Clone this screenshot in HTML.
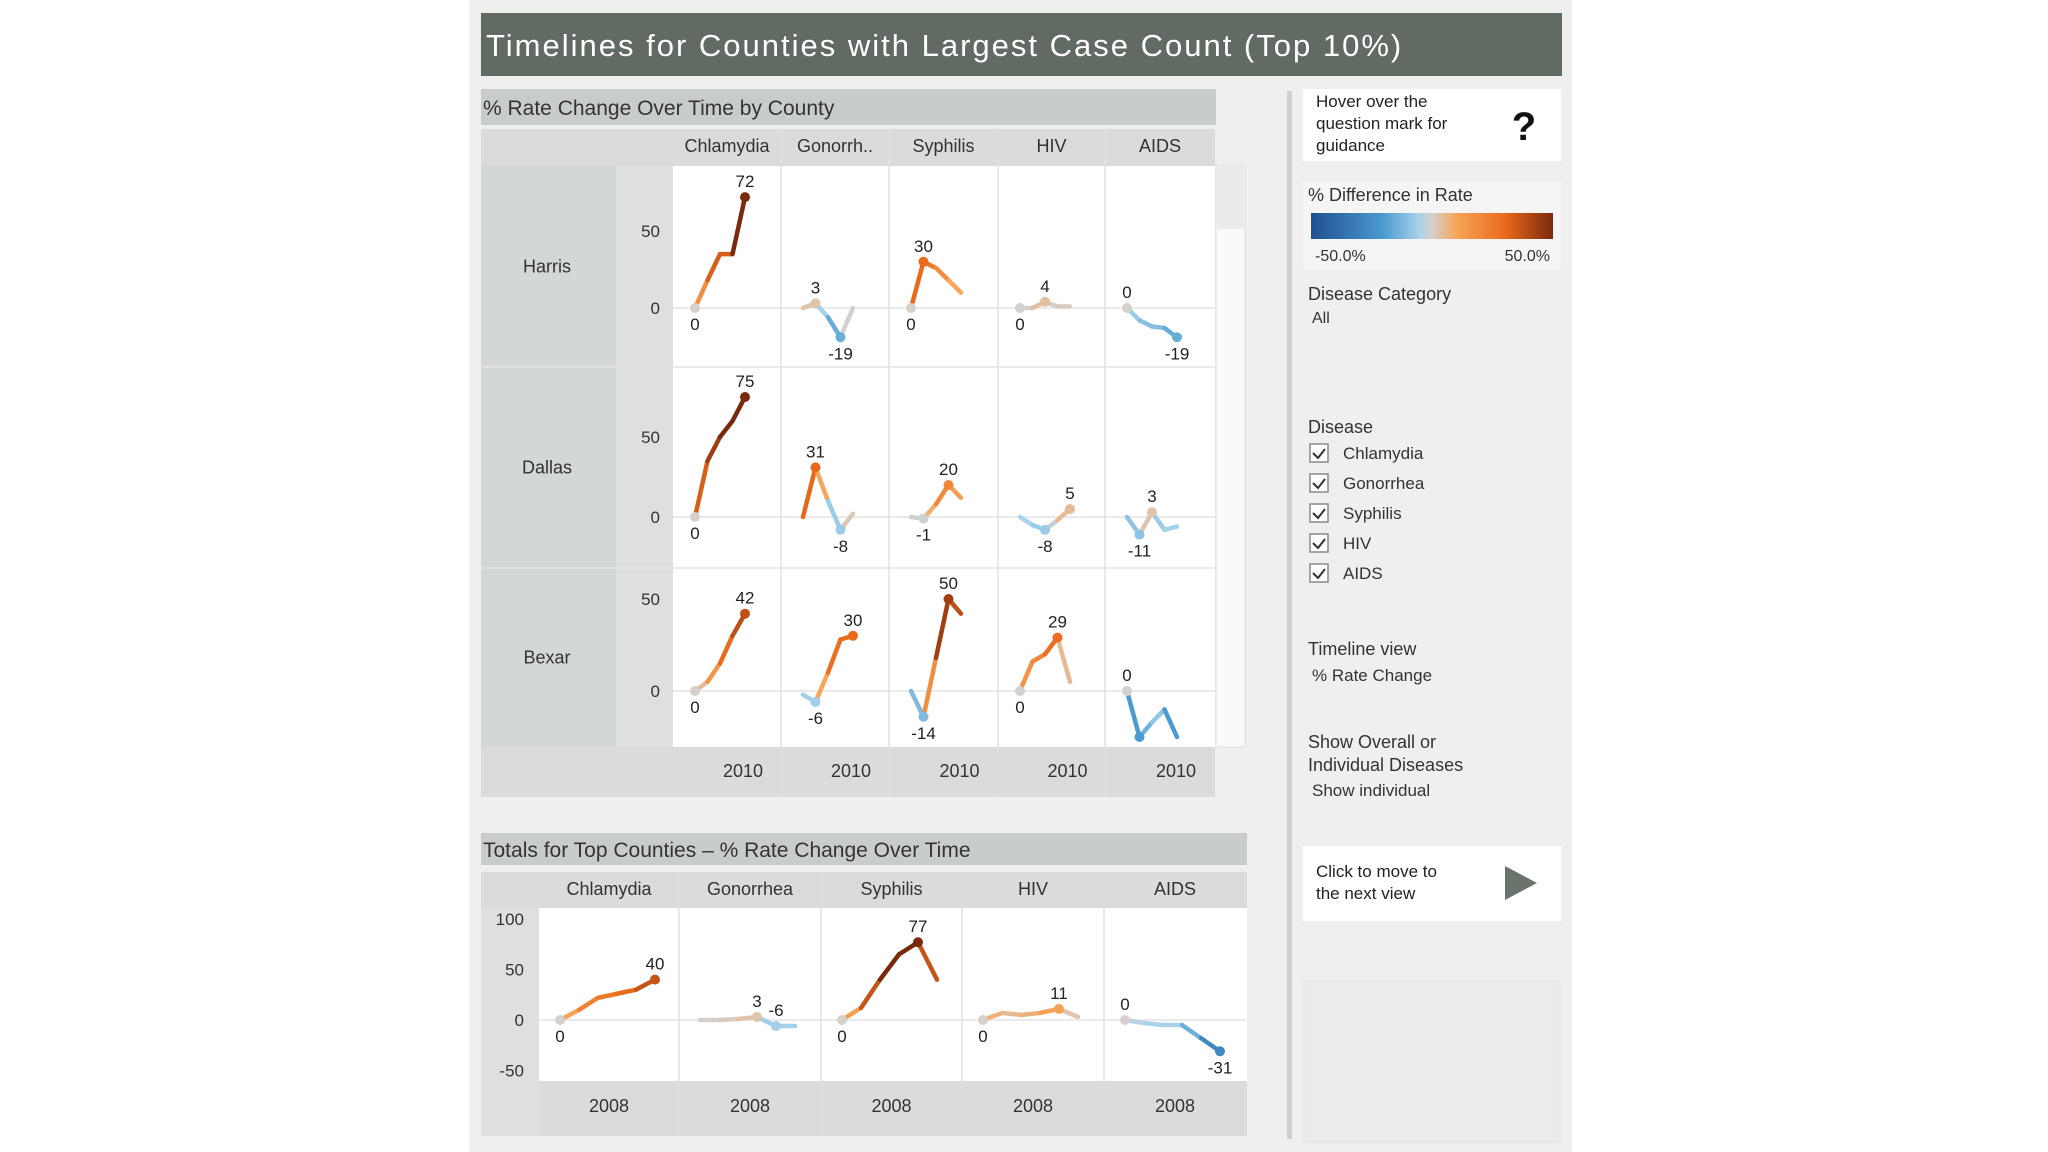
<!DOCTYPE html>
<html><head><meta charset="utf-8"><style>
html,body{margin:0;padding:0;background:#fff;}
svg{display:block;font-family:"Liberation Sans",sans-serif;}
</style></head><body>
<svg id="s" width="2048" height="1152" viewBox="0 0 2048 1152">
<rect x="469" y="0" width="1103" height="1152" fill="#efefef"/>
<rect x="481" y="13" width="1081" height="63" fill="#626a64"/>
<text x="486" y="56" font-size="31" fill="#fff" letter-spacing="2">Timelines for Counties with Largest Case Count (Top 10%)</text>
<rect x="481" y="89" width="735" height="36" fill="#c8cdcb"/>
<text x="483" y="115" font-size="21" fill="#333">% Rate Change Over Time by County</text>
<rect x="481" y="129" width="734" height="37" fill="#d9dcdb"/>
<rect x="481" y="166" width="135" height="581" fill="#d3d8d6"/>
<rect x="616" y="166" width="57" height="581" fill="#dde0df"/>
<rect x="673" y="166" width="542" height="581" fill="#fff"/>
<rect x="481" y="747" width="734" height="50" fill="#d9dcdb"/>
<rect x="1216" y="166" width="29" height="581" fill="#fafafa" stroke="#ddd"/>
<rect x="1217" y="167" width="27" height="62" fill="#ebebeb"/>
<g id="county"></g>

<rect x="481" y="833" width="766" height="32" fill="#c8cdcb"/>
<text x="483" y="857" font-size="21" fill="#333">Totals for Top Counties – % Rate Change Over Time</text>
<rect x="481" y="872" width="766" height="36" fill="#d9dcdb"/>
<rect x="481" y="908" width="58" height="228" fill="#dde0df"/>
<rect x="539" y="908" width="708" height="173" fill="#fff"/>
<rect x="539" y="1081" width="708" height="55" fill="#d9dcdb"/>
<g id="totals"></g>

<rect x="1287" y="91" width="5" height="1048" fill="#d0d0d0"/>
<rect x="1303" y="89" width="258" height="72" fill="#fff"/>
<text font-size="17" fill="#222"><tspan x="1316" y="107">Hover over the</tspan><tspan x="1316" y="129">question mark for</tspan><tspan x="1316" y="151">guidance</tspan></text>
<text x="1524" y="140" font-size="40" font-weight="bold" fill="#111" text-anchor="middle">?</text>
<rect x="1303" y="181" width="258" height="88" fill="#f5f5f5"/>
<text x="1308" y="201" font-size="18" fill="#333">% Difference in Rate</text>
<defs><linearGradient id="g" x1="0" x2="1"><stop offset="0" stop-color="#1f4f8f"/><stop offset="0.3" stop-color="#4c9bd0"/><stop offset="0.45" stop-color="#a9d3ea"/><stop offset="0.5" stop-color="#d5d0cc"/><stop offset="0.6" stop-color="#f6a55a"/><stop offset="0.8" stop-color="#ea6a1c"/><stop offset="1" stop-color="#7a2a0c"/></linearGradient></defs>
<rect x="1311" y="213" width="242" height="26" fill="url(#g)"/>
<text x="1315" y="261" font-size="16" fill="#333">-50.0%</text>
<text x="1550" y="261" font-size="16" fill="#333" text-anchor="end">50.0%</text>
<text x="1308" y="300" font-size="18" fill="#333">Disease Category</text>
<text x="1312" y="323" font-size="16" fill="#333">All</text>
<text x="1308" y="433" font-size="18" fill="#333">Disease</text>
<g id="checks"></g>
<text x="1308" y="655" font-size="18" fill="#333">Timeline view</text>
<text x="1312" y="681" font-size="17" fill="#333">% Rate Change</text>
<text x="1308" y="748" font-size="18" fill="#333">Show Overall or</text>
<text x="1308" y="771" font-size="18" fill="#333">Individual Diseases</text>
<text x="1312" y="796" font-size="17" fill="#333">Show individual</text>
<rect x="1303" y="846" width="258" height="75" fill="#fff"/>
<text font-size="17" fill="#222"><tspan x="1316" y="877">Click to move to</tspan><tspan x="1316" y="899">the next view</tspan></text>
<polygon points="1505,866 1537,883 1505,900" fill="#6b736d"/>
<rect x="1304" y="981" width="256" height="161" fill="#ececec" stroke="#e2e2e2"/>
</svg>
<script>
const diseases = ["Chlamydia","Gonorrh..","Syphilis","HIV","AIDS"];
const totalDiseases = ["Chlamydia","Gonorrhea","Syphilis","HIV","AIDS"];
const counties = ["Harris","Dallas","Bexar"];
const harris = [[0,18,35,35,72],[0,3,-6,-19,0],[0,30,26,18,10],[0,0,4,1,1],[0,-8,-12,-13,-19]];
const dallas = [[0,35,50,60,75],[0,31,10,-8,2],[0,-1,8,20,12],[0,-5,-8,-2,5],[0,-11,3,-8,-6]];
const bexar = [[0,5,15,30,42],[-2,-6,10,28,30],[0,-14,18,50,42],[0,16,20,29,5],[0,-25,-17,-10,-25]];
const totals = [[0,10,22,26,30,40],[0,0,1,3,-6,-6],[0,12,40,65,77,40],[0,7,5,7,11,3],[0,-3,-5,-5,-18,-31]];
const countyTicks = ["0","50"];
const totalTicks = ["-50","0","50","100"];
const countyYearLabel = "2010";
const totalYearLabel = "2008";

const NS="http://www.w3.org/2000/svg";
function mk(parent,tag,attrs){const e=document.createElementNS(NS,tag);for(const k in attrs)e.setAttribute(k,attrs[k]);parent.appendChild(e);return e;}
function lerp(a,b,t){return a.map((v,i)=>Math.round(v+(b[i]-v)*t));}
function color(v){
  const stops=[[-50,[31,79,143]],[-25,[76,155,208]],[-5,[169,211,234]],[0,[213,208,204]],[10,[246,165,90]],[30,[234,106,28]],[60,[122,42,12]]];
  if(v<=stops[0][0])return "rgb("+stops[0][1]+")";
  for(let i=1;i<stops.length;i++){if(v<=stops[i][0]){const t=(v-stops[i-1][0])/(stops[i][0]-stops[i-1][0]);return "rgb("+lerp(stops[i-1][1],stops[i][1],t)+")";}}
  return "rgb("+stops[stops.length-1][1]+")";
}
function drawSeries(g,vals,xf,yf,name,opts){
  opts=opts||{};
  for(let i=1;i<vals.length;i++){
    const seg=mk(g,"line",{x1:xf(i-1),y1:yf(vals[i-1]),x2:xf(i),y2:yf(vals[i]),stroke:color(vals[i]),"stroke-width":4.5,"stroke-linecap":"round"});
    
    
  }
  let mx=0,mn=0;vals.forEach((v,i)=>{if(v>vals[mx])mx=i;if(v<vals[mn])mn=i;});
  [mx,mn].forEach((i,k)=>{
    if(k===1&&mn===mx)return;
    const d=mk(g,"circle",{cx:xf(i),cy:yf(vals[i]),r:5,fill:color(vals[i])});
    
    
    if(k===1&&opts.noMinLabel)return;
    const above=k===0||opts.minAbove;
    const t=mk(g,"text",{x:xf(i),y:above?yf(vals[i])-10:yf(vals[i])+22,"font-size":17,fill:"#222","text-anchor":"middle"});
    t.textContent=vals[i];
    
    
  });
}
const cg=document.getElementById("county");
const colX=[673,781,889,998,1105,1215];
const rowY=[166,367,568,747];
const zeroY=[308,517,691];
const pxPer50=[77,80,92];
const rows=[harris,dallas,bexar];
diseases.forEach((d,c)=>{
  const t=mk(cg,"text",{x:(colX[c]+colX[c+1])/2,y:152,"font-size":18,fill:"#333","text-anchor":"middle"});
  t.textContent=d;
  
  
  const y=mk(cg,"text",{x:(colX[c]+colX[c+1])/2+16,y:777,"font-size":18,fill:"#333","text-anchor":"middle"});
  y.textContent=countyYearLabel;
  
  
  if(c>0){const l=mk(cg,"line",{x1:colX[c],y1:129,x2:colX[c],y2:797,stroke:"#e0e0e0","stroke-width":1.5});
    
    }
});
counties.forEach((name,r)=>{
  const yf=v=>zeroY[r]-v*pxPer50[r]/50;
  if(r>0){const l=mk(cg,"line",{x1:481,y1:rowY[r],x2:1215,y2:rowY[r],stroke:"#e3e3e3","stroke-width":1.5});
    
    }
  const lab=mk(cg,"text",{x:547,y:(rowY[r]+rowY[r+1])/2+6,"font-size":18,fill:"#333","text-anchor":"middle"});
  lab.textContent=name;
  
  
  countyTicks.forEach(tk=>{
    const t=mk(cg,"text",{x:660,y:yf(+tk)+6,"font-size":17,fill:"#333","text-anchor":"end"});
    t.textContent=tk;
    
    
  });
  for(let c=0;c<5;c++){
    const z=mk(cg,"line",{x1:colX[c],y1:yf(0),x2:colX[c+1],y2:yf(0),stroke:"#e4e4e4","stroke-width":1.5});
    
    
    const xf=i=>colX[c]+22+i*12.5;
    drawSeries(cg,rows[r][c],xf,yf,(name+"-"+totalDiseases[c]).toLowerCase(),{noMinLabel:(r===2&&c===4)});
  }
});
const tg=document.getElementById("totals");
const tX=[539,679,821,962,1104,1246];
const tyf=v=>1020-v*1.01;
totalTicks.forEach(tk=>{
  const t=mk(tg,"text",{x:524,y:tyf(+tk)+6,"font-size":17,fill:"#333","text-anchor":"end"});
  t.textContent=tk;
  
  
});
totalDiseases.forEach((d,c)=>{
  const t=mk(tg,"text",{x:(tX[c]+tX[c+1])/2,y:895,"font-size":18,fill:"#333","text-anchor":"middle"});
  t.textContent=d;
  
  
  const y=mk(tg,"text",{x:(tX[c]+tX[c+1])/2,y:1112,"font-size":18,fill:"#333","text-anchor":"middle"});
  y.textContent=totalYearLabel;
  
  
  if(c>0){const l=mk(tg,"line",{x1:tX[c],y1:872,x2:tX[c],y2:1136,stroke:"#e0e0e0","stroke-width":1.5});
    
    }
  const z=mk(tg,"line",{x1:tX[c],y1:tyf(0),x2:tX[c+1],y2:tyf(0),stroke:"#e4e4e4","stroke-width":1.5});
  
  
  const xf=i=>tX[c]+21+i*19;
  drawSeries(tg,totals[c],xf,tyf,"total-"+d.toLowerCase(),{minAbove:(c===1)});
});
const ch=document.getElementById("checks");
totalDiseases.forEach((d,i)=>{
  const y=453+i*30;
  const b=mk(ch,"rect",{x:1310,y:y-9,width:18,height:18,fill:"#fff",stroke:"#888","stroke-width":1.5});
  
  
  const p=mk(ch,"polyline",{points:(1313)+","+(y)+" "+(1318)+","+(y+5)+" "+(1325)+","+(y-4),fill:"none",stroke:"#333","stroke-width":2});
  
  
  const t=mk(ch,"text",{x:1343,y:y+6,"font-size":17,fill:"#333"});
  t.textContent=d;
  
  
});
</script>
</body></html>
